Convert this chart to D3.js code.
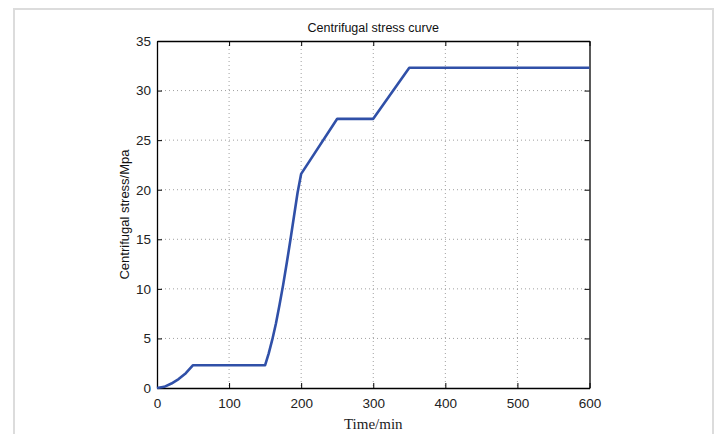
<!DOCTYPE html>
<html><head><meta charset="utf-8">
<script src="https://cdn.jsdelivr.net/npm/d3@7"></script>
<style>body{margin:0;background:#fff;} svg{display:block;}</style>
</head><body>
<svg id="c" width="718" height="434"></svg>
<script>
const timeMin = [0,10,20,30,40,50,150,155,160,165,170,175,180,185,190,195,200,250,300,350,600];
const stressMpa = [0,0.12,0.45,0.9,1.5,2.3,2.3,3.5,4.9,6.5,8.4,10.4,12.6,14.9,17.3,19.7,21.6,27.15,27.15,32.3,32.3];
const xTicks = [0,100,200,300,400,500,600];
const yTicks = [0,5,10,15,20,25,30,35];
const title = "Centrifugal stress curve";
const xLabel = "Time/min";
const yLabel = "Centrifugal stress/Mpa";

const svg = d3.select("#c");
// outer frame
svg.append("rect").attr("x",14).attr("y",9).attr("width",699).attr("height",440)
  .attr("fill","none").attr("stroke","#dcdcdc").attr("stroke-width",2);

const L=157,R=589.5,T=41,B=388;
const x = d3.scaleLinear().domain([0,600]).range([L,R]);
const y = d3.scaleLinear().domain([0,35]).range([B,T]);

const g = svg.append("g");
// grid
g.selectAll(".gx").data(xTicks.slice(1,-1)).enter().append("line")
  .attr("x1",d=>x(d)).attr("x2",d=>x(d)).attr("y1",T).attr("y2",B)
  .attr("stroke","#a0a0a0").attr("stroke-width",1).attr("stroke-dasharray","1,3");
g.selectAll(".gy").data(yTicks.slice(1,-1)).enter().append("line")
  .attr("y1",d=>y(d)).attr("y2",d=>y(d)).attr("x1",L).attr("x2",R)
  .attr("stroke","#a0a0a0").attr("stroke-width",1).attr("stroke-dasharray","1,3");

// axes with inward ticks
const font = "'Liberation Sans', Arial, sans-serif";
const ax = g.append("g").attr("transform",`translate(0,${B})`)
  .call(d3.axisBottom(x).tickValues(xTicks).tickSizeInner(-5).tickSizeOuter(0).tickPadding(10));
const ay = g.append("g").attr("transform",`translate(${L},0)`)
  .call(d3.axisLeft(y).tickValues(yTicks).tickSizeInner(-5).tickSizeOuter(0).tickPadding(6));
const axT = g.append("g").attr("transform",`translate(0,${T})`)
  .call(d3.axisTop(x).tickValues(xTicks).tickSizeInner(-5).tickSizeOuter(0).tickFormat(""));
const ayR = g.append("g").attr("transform",`translate(${R},0)`)
  .call(d3.axisRight(y).tickValues(yTicks).tickSizeInner(-5).tickSizeOuter(0).tickFormat(""));
[ax,ay,axT,ayR].forEach(a=>{
  a.select(".domain").attr("stroke","#000").attr("stroke-width",1.3);
  a.selectAll(".tick line").attr("stroke","#000");
  a.selectAll("text").attr("font-family",font).attr("font-size",13.5).attr("fill","#222");
});

// line
const line = d3.line().x((d,i)=>x(timeMin[i])).y(d=>y(d));
g.append("path").datum(stressMpa).attr("d",line).attr("fill","none")
  .attr("stroke","#3050a8").attr("stroke-width",2.6).attr("stroke-linejoin","round");

// title and labels
svg.append("text").attr("x",(L+R)/2).attr("y",32).attr("text-anchor","middle")
  .attr("font-family",font).attr("font-size",12.5).attr("fill","#111").text(title);
svg.append("text").attr("transform",`translate(129,${(T+B)/2}) rotate(-90)`).attr("text-anchor","middle")
  .attr("font-family",font).attr("font-size",13).attr("fill","#111").text(yLabel);
svg.append("text").attr("x",(L+R)/2).attr("y",429).attr("text-anchor","middle")
  .attr("font-family","'Liberation Serif', 'DejaVu Serif', serif").attr("font-size",15).attr("fill","#222").text(xLabel);
</script>
</body></html>
